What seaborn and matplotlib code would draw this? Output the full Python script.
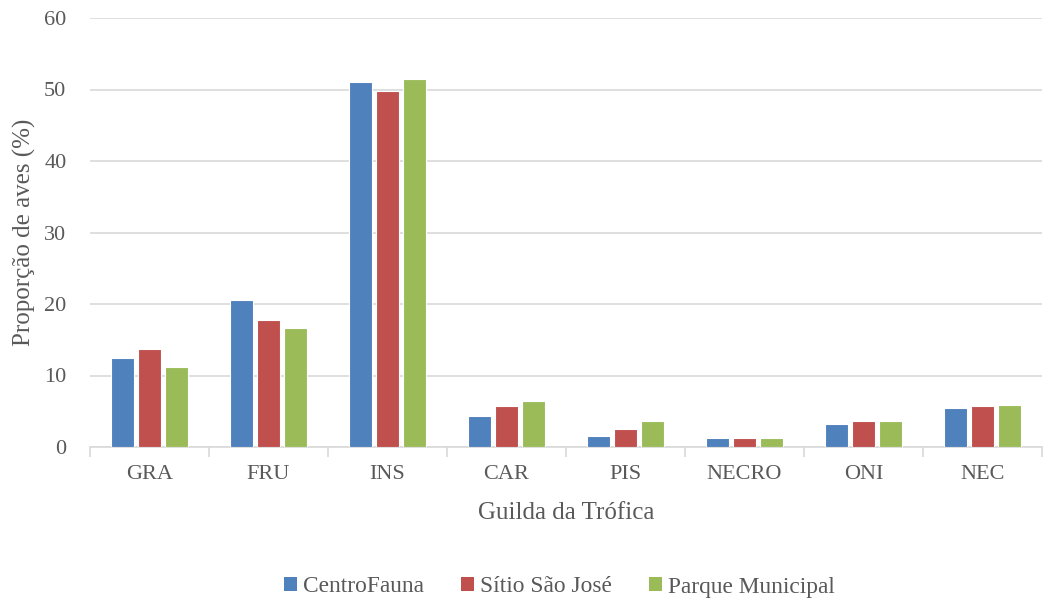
import matplotlib
matplotlib.use("Agg")
import matplotlib.pyplot as plt
from matplotlib.patches import Patch
import seaborn as sns
import pandas as pd

guildas = ["GRA", "FRU", "INS", "CAR", "PIS", "NECRO", "ONI", "NEC"]
centro_fauna = [12.5, 20.6, 51.0, 4.3, 1.6, 1.2, 3.2, 5.5]
sitio_sao_jose = [13.7, 17.7, 49.8, 5.8, 2.5, 1.2, 3.6, 5.8]
parque_municipal = [11.2, 16.6, 51.4, 6.5, 3.6, 1.2, 3.6, 5.9]
series_names = ["CentroFauna", "Sítio São José", "Parque Municipal"]
colors = ["#4F81BD", "#C0504D", "#9BBB59"]

df = pd.DataFrame({
    "Guilda": guildas * 3,
    "Local": [series_names[0]] * 8 + [series_names[1]] * 8 + [series_names[2]] * 8,
    "Valor": centro_fauna + sitio_sao_jose + parque_municipal,
})

sns.set_style("white")
plt.rcParams["font.family"] = ["Liberation Serif", "DejaVu Serif"]

fig = plt.figure(figsize=(10.63, 6.01), dpi=100)
ax = fig.add_axes([90 / 1063, 1 - 447 / 601, (1042 - 90) / 1063, (447 - 18) / 601])

sns.barplot(data=df, x="Guilda", y="Valor", hue="Local", order=guildas,
            hue_order=series_names, palette=colors, saturation=1, width=0.68, gap=0.17,
            edgecolor="white", linewidth=0.8, ax=ax, legend=False, zorder=3)

grid_c = "#D9D9D9"
text_c = "#595959"
ax.set_ylim(0, 60)
ax.set_xlim(-0.5, len(guildas) - 0.5)
ax.set_yticks(range(0, 61, 10))
ax.yaxis.grid(True, color=grid_c, linewidth=1.2, zorder=0)
ax.set_axisbelow(True)
for s in ["top", "right", "left"]:
    ax.spines[s].set_visible(False)
ax.spines["bottom"].set_color(grid_c)
ax.spines["bottom"].set_linewidth(1.2)

# tick marks between categories
ax.set_xticks([i - 0.5 for i in range(len(guildas) + 1)], minor=True)
ax.tick_params(axis="x", which="minor", length=7, color=grid_c, width=1.2, direction="out", bottom=True)
ax.tick_params(axis="x", which="major", length=0, pad=13, labelsize=16, labelcolor=text_c)
ax.tick_params(axis="y", length=0, pad=17, labelsize=16, labelcolor=text_c)

ax.set_xlabel("Guilda da Trófica", fontsize=18, color=text_c, labelpad=13)
ax.set_ylabel("Proporção de aves (%)", fontsize=18, color=text_c, labelpad=6)

handles = [Patch(facecolor=c, edgecolor="none") for c in colors]
fig.legend(handles, series_names, loc="center", bbox_to_anchor=(0.526, 1 - 587 / 601),
           ncol=3, frameon=False, fontsize=16.8, handlelength=0.55, handleheight=0.55,
           handletextpad=0.25, columnspacing=1.6, labelcolor=text_c)

fig.savefig("out.png", dpi=100)
